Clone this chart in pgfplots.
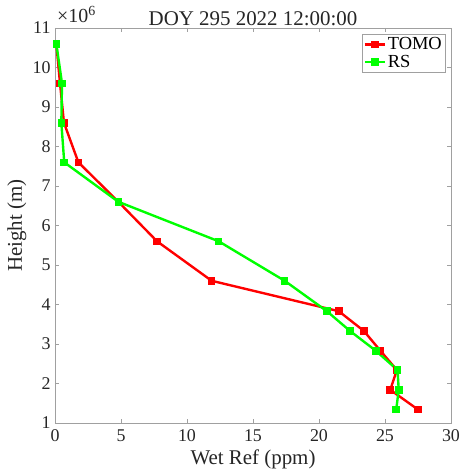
\documentclass[border=0pt]{standalone}
\usepackage{fontspec}
\setmainfont{Liberation Serif}
\usepackage{pgfplots}
\pgfplotsset{compat=1.18}
\usetikzlibrary{calc}
\definecolor{axgray}{HTML}{A0A0A0}
\definecolor{txtgray}{HTML}{262626}
\definecolor{tomored}{HTML}{FF0000}
\definecolor{rsgreen}{HTML}{00FF00}

\begin{document}
\begin{tikzpicture}
  \begin{axis}[
      scale only axis,
      width=396bp, height=395bp,
      xmin=0, xmax=30, ymin=1, ymax=11,
      xtick={0,5,...,30}, ytick={1,2,...,11},
      /pgf/number format/assume math mode=true,
      tick label style={font=\fontsize{18}{20}\selectfont, text=txtgray},
      xticklabel style={yshift=-3bp},
      yticklabel style={xshift=-1bp},
      label style={font=\fontsize{21}{23}\selectfont, text=txtgray},
      xlabel={Wet Ref (ppm)},
      ylabel={Height (m)},
      xlabel style={at={(axis description cs:0.5,0)}, anchor=north, yshift=-23bp},
      ylabel style={at={(axis description cs:0,0.5)}, anchor=south, yshift=25bp},
      title={DOY 295 2022 12:00:00},
      title style={font=\fontsize{21}{23}\selectfont, text=txtgray, yshift=-7bp},
      axis line style={axgray},
      tick style={axgray, thin},
      major tick length=4bp,
      tick align=inside,
      legend style={at={(rel axis cs:0.986,0.985)}, anchor=north east,
        draw=axgray, font=\fontsize{18.5}{20}\selectfont, inner sep=1.5bp,
        row sep=0bp},
      legend cell align=left,
      legend image code/.code={
        \draw[#1] (0cm,0cm) -- (0.7cm,0cm);
        \draw[#1, only marks] plot coordinates {(0.35cm,0cm)};
      },
      clip=false,
    ]
    \addplot[tomored, line width=2.4pt, mark=square*, mark size=2.6pt] coordinates {
      (0.10,10.6) (0.38,9.6) (0.68,8.6) (1.77,7.6) (4.80,6.6) (7.73,5.6)
      (11.87,4.6) (21.5,3.83) (23.4,3.33) (24.65,2.83) (25.9,2.34)
      (25.4,1.84) (27.5,1.34)
    };
    \addlegendentry{TOMO}
    \addplot[rsgreen, line width=2.4pt, mark=square*, mark size=2.6pt] coordinates {
      (0.10,10.6) (0.53,9.6) (0.48,8.6) (0.70,7.6) (4.80,6.6) (12.4,5.6)
      (17.4,4.6) (20.6,3.83) (22.35,3.33) (24.3,2.83) (25.95,2.34)
      (26.04,1.84) (25.85,1.34)
    };
    \addlegendentry{RS}
    \node[anchor=base west, font=\fontsize{20}{22}\selectfont, text=txtgray,
      inner sep=0pt] at ($(rel axis cs:0,1)+(2bp,5bp)$) {×10\textsuperscript{6}};
  \end{axis}
  \pgfresetboundingbox
  \path ($(current axis.south west)+(-55bp,-51bp)$) rectangle
        ($(current axis.north east)+(10bp,28bp)$);
\end{tikzpicture}
\end{document}
